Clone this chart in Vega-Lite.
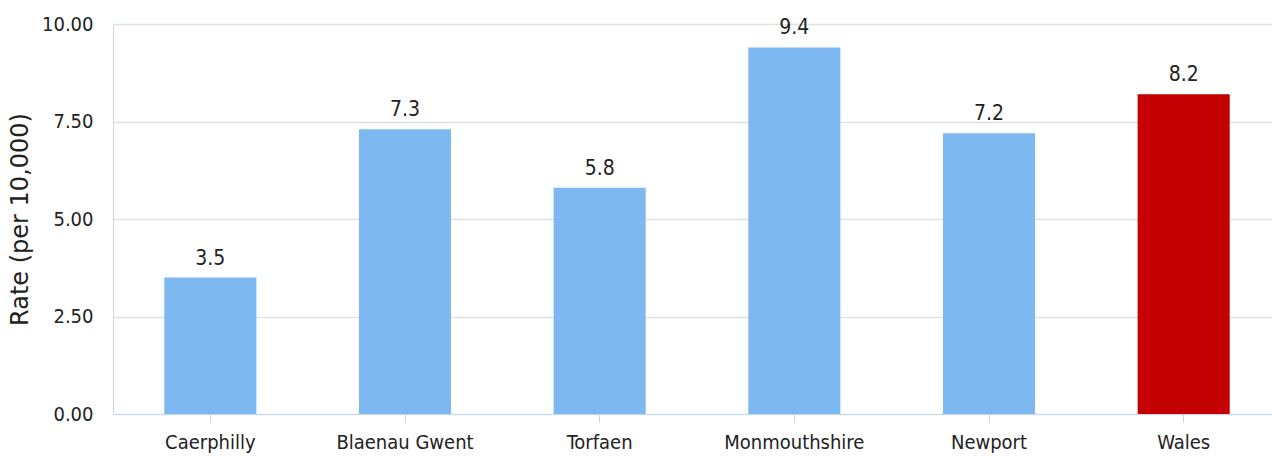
{
  "$schema": "https://vega.github.io/schema/vega-lite/v6.json",
  "width": 1168,
  "height": 390,
  "autosize": {"type": "none"},
  "padding": {"left": 113, "top": 24, "right": 0, "bottom": 42},
  "background": "white",
  "config": {"view": {"stroke": null}},
  "data": {
    "values": [
      {"area": "Caerphilly", "rate": 3.5, "group": "LA"},
      {"area": "Blaenau Gwent", "rate": 7.3, "group": "LA"},
      {"area": "Torfaen", "rate": 5.8, "group": "LA"},
      {"area": "Monmouthshire", "rate": 9.4, "group": "LA"},
      {"area": "Newport", "rate": 7.2, "group": "LA"},
      {"area": "Wales", "rate": 8.2, "group": "Wales"}
    ]
  },
  "encoding": {
    "x": {
      "field": "area",
      "type": "nominal",
      "sort": null,
      "scale": {"paddingInner": 0.527, "paddingOuter": 0.2635},
      "axis": {
        "title": null,
        "labelAngle": 0,
        "labelFont": "DejaVu Sans Condensed",
        "labelFontSize": 20,
        "labelColor": "#222222",
        "labelPadding": 10,
        "domainColor": "#c8d6ea",
        "tickColor": "#c8d6ea",
        "tickSize": 8,
        "grid": false
      }
    },
    "y": {
      "field": "rate",
      "type": "quantitative",
      "scale": {"domain": [0, 10]},
      "axis": {
        "title": "Rate (per 10,000)",
        "titleFont": "DejaVu Sans",
        "titleFontSize": 24,
        "titleFontWeight": "normal",
        "titleColor": "#222222",
        "titlePadding": 9,
        "values": [0, 2.5, 5, 7.5, 10],
        "format": ".2f",
        "labelFont": "DejaVu Sans Condensed",
        "labelFontSize": 20,
        "labelColor": "#222222",
        "labelPadding": 20,
        "ticks": false,
        "domainColor": "#c8d6ea",
        "gridColor": "#dfe3e8",
        "gridWidth": 1.5
      }
    }
  },
  "layer": [
    {
      "mark": {"type": "bar"},
      "encoding": {
        "color": {
          "field": "group",
          "type": "nominal",
          "scale": {"domain": ["LA", "Wales"], "range": ["#7eb8f1", "#c40000"]},
          "legend": null
        }
      }
    },
    {
      "mark": {
        "type": "text",
        "baseline": "bottom",
        "dy": -9,
        "font": "DejaVu Sans Condensed",
        "fontSize": 21,
        "color": "#222222"
      },
      "encoding": {
        "text": {"field": "rate", "type": "quantitative", "format": ".1f"}
      }
    }
  ]
}
